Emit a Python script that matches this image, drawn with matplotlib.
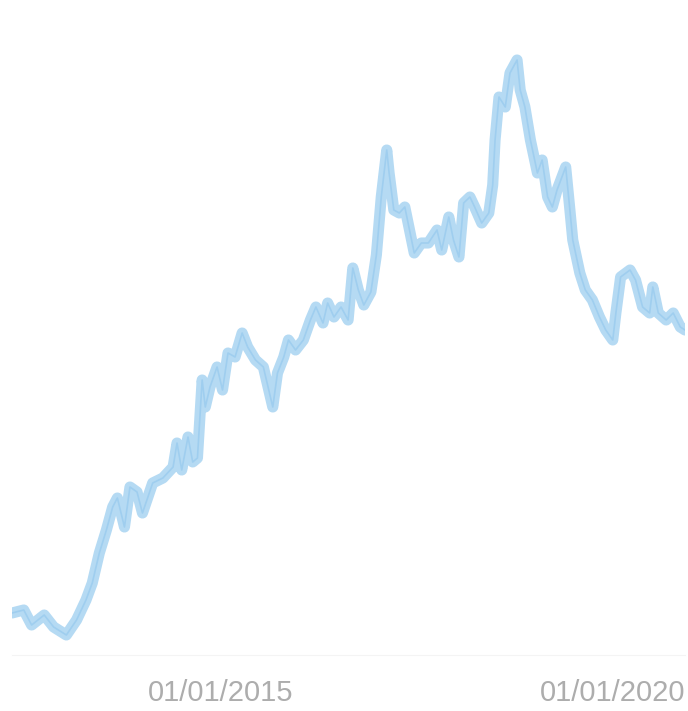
import numpy as np
import pandas as pd
import matplotlib
matplotlib.use("Agg")
import matplotlib.pyplot as plt
import matplotlib.dates as mdates

# Dates as decimal years (arbitrary index units)
years = [2012.35, 2012.50, 2012.60, 2012.76, 2012.88, 2013.04, 2013.17, 2013.29,
         2013.37, 2013.46, 2013.55, 2013.63, 2013.69, 2013.78, 2013.85, 2013.94,
         2014.01, 2014.14, 2014.27, 2014.40, 2014.45, 2014.51, 2014.59, 2014.65,
         2014.71, 2014.77, 2014.81, 2014.87, 2014.96, 2015.03, 2015.10, 2015.19,
         2015.28, 2015.35, 2015.45, 2015.55, 2015.64, 2015.67, 2015.73, 2015.81,
         2015.87, 2015.96, 2016.06, 2016.15, 2016.22, 2016.31, 2016.37, 2016.45,
         2016.54, 2016.63, 2016.69, 2016.76, 2016.83, 2016.92, 2016.99, 2017.05,
         2017.12, 2017.15, 2017.21, 2017.28, 2017.35, 2017.41, 2017.47, 2017.56,
         2017.65, 2017.76, 2017.82, 2017.91, 2017.97, 2018.04, 2018.10, 2018.18,
         2018.24, 2018.33, 2018.42, 2018.47, 2018.50, 2018.55, 2018.63, 2018.69,
         2018.78, 2018.82, 2018.88, 2018.95, 2019.04, 2019.10, 2019.17, 2019.23,
         2019.29, 2019.40, 2019.45, 2019.49, 2019.58, 2019.65, 2019.74, 2019.83,
         2019.91, 2020.00, 2020.04, 2020.10, 2020.22, 2020.29, 2020.38, 2020.47,
         2020.51, 2020.58, 2020.68, 2020.77, 2020.86, 2020.92]
values = [47, 50, 35, 45, 33, 25, 40, 60,
          77, 107, 130, 153, 162, 133, 173, 168,
          147, 177, 182, 193, 217, 190, 223, 198,
          202, 280, 253, 273, 293, 270, 307, 303,
          327, 313, 300, 293, 263, 253, 287, 303,
          320, 310, 320, 340, 353, 337, 357, 343,
          353, 340, 392, 370, 355, 368, 405, 463,
          510, 487, 450, 447, 453, 430, 407, 417,
          417, 430, 410, 443, 420, 403, 457, 463,
          453, 437, 447, 475, 520, 563, 553, 587,
          600, 570, 553, 520, 487, 500, 463, 453,
          470, 493, 453, 420, 387, 370, 360, 343,
          330, 320, 347, 383, 390, 380, 353, 347,
          373, 347, 340, 347, 333, 330]
tick_dates = ["2015-01-01", "2020-01-01"]


def to_date(y):
    start = pd.Timestamp(year=int(y), month=1, day=1)
    return start + pd.Timedelta(days=(y - int(y)) * 365.25)


dates = [to_date(y) for y in years]

fig = plt.figure(figsize=(6.88, 7.11), dpi=100)
ax = fig.add_axes([12 / 688, 56 / 711, 673 / 688, 615 / 711])

ax.plot(dates, values, color="#b5daf3", lw=8, solid_joinstyle="round",
        solid_capstyle="round")
ax.plot(dates, values, color="#9acbee", lw=1.2, alpha=0.8)

ax.set_xlim(dates[0], dates[-1])
ax.set_ylim(5, 620)

for s in ["top", "left", "right"]:
    ax.spines[s].set_visible(False)
ax.spines["bottom"].set_color("#f4f4f4")
ax.set_yticks([])
ax.set_xticks([pd.Timestamp(d) for d in tick_dates])
ax.xaxis.set_major_formatter(mdates.DateFormatter("%d/%m/%Y"))
ax.tick_params(axis="x", length=0, pad=17, labelsize=21, labelcolor="#adadad")
for lbl in ax.get_xticklabels():
    lbl.set_fontfamily("Liberation Sans")

fig.savefig("out.png", dpi=100)
